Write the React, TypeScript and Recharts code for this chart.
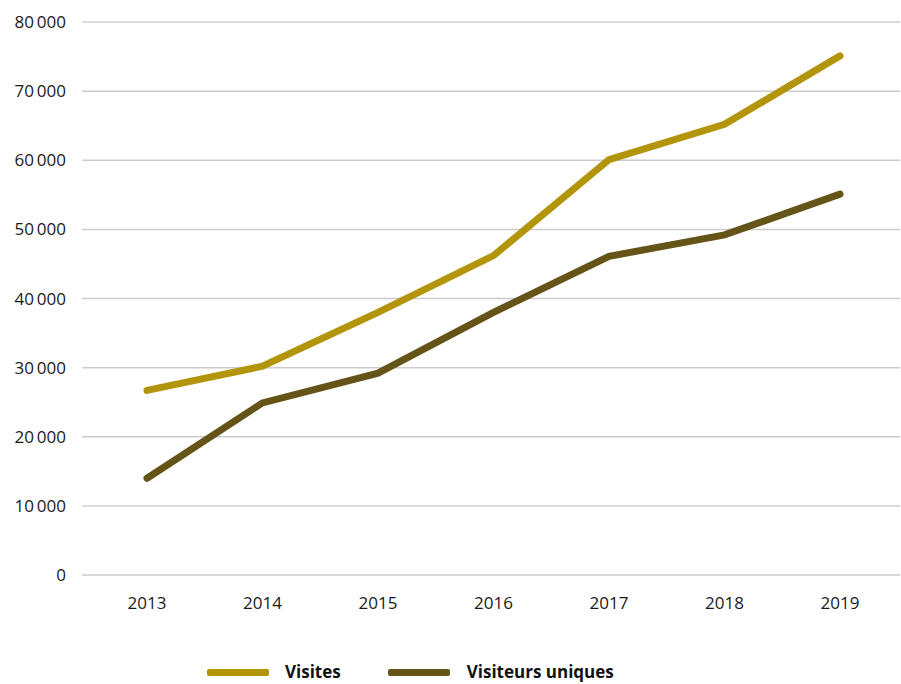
import React from "react";
import { LineChart, Line, XAxis, YAxis, CartesianGrid, Legend } from "recharts";

const years = ["2013", "2014", "2015", "2016", "2017", "2018", "2019"];
const visites = [26700, 30200, 38000, 46200, 60100, 65200, 75100];
const visiteursUniques = [14000, 24900, 29200, 38000, 46100, 49200, 55100];
const yTicks = [0, 10000, 20000, 30000, 40000, 50000, 60000, 70000, 80000];

const seriesNames = { visites: "Visites", uniques: "Visiteurs uniques" };
const colors = { visites: "#b3950c", uniques: "#645418" };

const data = years.map((y, i) => ({ year: y, visites: visites[i], uniques: visiteursUniques[i] }));

const fmt = (v: number) => (v === 0 ? "0" : `${v / 1000}\u2009000`);

const LegendContent = () => (
  <div style={{ display: "flex", alignItems: "center", height: 24, paddingLeft: 205, fontFamily: "'Open Sans', sans-serif", fontSize: 17, fontWeight: 700, color: "#111", lineHeight: "24px" }}>
    <span style={{ display: "inline-block", width: 62, height: 7, borderRadius: 2, background: colors.visites }} />
    <span style={{ marginLeft: 16, marginRight: 47 }}>{seriesNames.visites}</span>
    <span style={{ display: "inline-block", width: 62, height: 7, borderRadius: 2, background: colors.uniques }} />
    <span style={{ marginLeft: 17 }}>{seriesNames.uniques}</span>
  </div>
);

export default function App() {
  return (
    <div style={{ position: "fixed", top: 0, left: 0, width: 901, height: 684, background: "#fff", overflow: "hidden" }}>
      <LineChart width={901} height={684} data={data} margin={{ top: 22, right: 1, bottom: 0, left: 2 }}>
        <CartesianGrid vertical={false} stroke="#cccccc" strokeWidth={1.5} />
        <XAxis
          dataKey="year"
          axisLine={false}
          tickLine={false}
          tickSize={0}
          tickMargin={22}
          height={85}
          padding={{ left: 65, right: 60 }}
          tick={{ fill: "#1a1a1a", fontSize: 17, fontFamily: "'Open Sans', sans-serif" }}
        />
        <YAxis
          domain={[0, 80000]}
          ticks={yTicks}
          axisLine={false}
          tickLine={false}
          tickSize={0}
          tickMargin={16}
          width={80}
          tickFormatter={fmt}
          tick={{ fill: "#1a1a1a", fontSize: 17, fontFamily: "'Open Sans', sans-serif" }}
        />
        <Legend verticalAlign="bottom" align="left" height={24} content={<LegendContent />} />
        <Line type="linear" dataKey="visites" name={seriesNames.visites} stroke={colors.visites} strokeWidth={7} strokeLinecap="round" dot={false} activeDot={false} isAnimationActive={false} />
        <Line type="linear" dataKey="uniques" name={seriesNames.uniques} stroke={colors.uniques} strokeWidth={7} strokeLinecap="round" dot={false} activeDot={false} isAnimationActive={false} />
      </LineChart>
    </div>
  );
}
